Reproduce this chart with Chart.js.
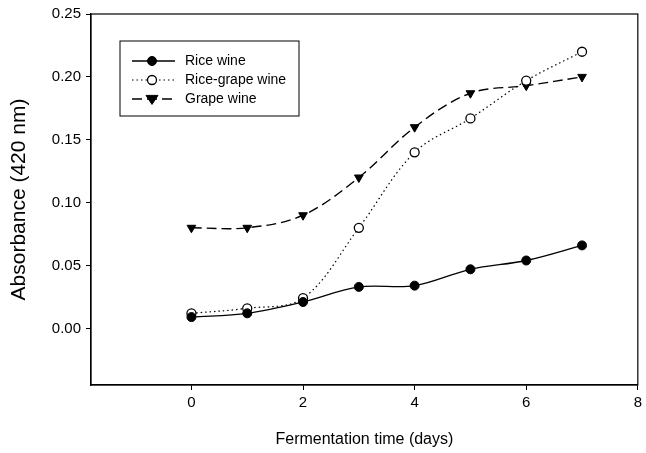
<!DOCTYPE html>
<html>
<head>
<meta charset="utf-8">
<script src="https://cdn.jsdelivr.net/npm/chart.js@4"></script>
<style>
  html, body { margin: 0; padding: 0; background: #fff; }
  #wrap { width: 646px; height: 453px; }
</style>
</head>
<body>
<div id="wrap"><canvas id="chart" width="646" height="453"></canvas></div>
<script>
// ── Data ─────────────────────────────────────────────────────────────────────
const days = [0, 1, 2, 3, 4, 5, 6, 7];
const riceWine      = [0.009, 0.012, 0.021, 0.033, 0.034, 0.047, 0.054, 0.066];
const riceGrapeWine = [0.012, 0.016, 0.024, 0.080, 0.140, 0.167, 0.197, 0.220];
const grapeWine     = [0.080, 0.080, 0.090, 0.120, 0.160, 0.187, 0.193, 0.200];
const xTicks = [0, 2, 4, 6, 8];
const yTicks = [0.00, 0.05, 0.10, 0.15, 0.20, 0.25];

const FONT = '"Liberation Sans", Arial, sans-serif';
const toPoints = vals => vals.map((v, i) => ({ x: days[i], y: v }));

// box around the plot area + legend inside it
const framePlugin = {
  id: 'frame',
  afterDatasetsDraw(chart) {
    const { ctx, chartArea: a } = chart;
    ctx.save();
    ctx.strokeStyle = '#000';
    ctx.lineWidth = 1.2;
    ctx.strokeRect(a.left, a.top, a.right - a.left, a.bottom - a.top);

    // legend
    const box = { x: 120, y: 41, w: 179, h: 75 };
    ctx.lineWidth = 1;
    ctx.strokeRect(box.x, box.y, box.w, box.h);
    ctx.font = '14px ' + FONT;
    ctx.textBaseline = 'middle';
    chart.data.datasets.forEach((ds, i) => {
      const y = box.y + 20 + i * 19;
      const cx = box.x + 32;
      ctx.strokeStyle = '#000';
      ctx.beginPath();
      ctx.setLineDash(ds.borderDash || []);
      ctx.lineWidth = ds.borderWidth;
      ctx.moveTo(box.x + 12, y);
      ctx.lineTo(box.x + 55, y);
      ctx.stroke();
      ctx.setLineDash([]);
      ctx.fillStyle = ds.pointBackgroundColor;
      ctx.lineWidth = ds.pointBorderWidth;
      ctx.beginPath();
      if (ds.pointStyle === 'circle') {
        ctx.arc(cx, y, ds.pointRadius, 0, Math.PI * 2);
      } else {
        const r = ds.pointRadius + 1;
        ctx.moveTo(cx - r, y - r * 0.6);
        ctx.lineTo(cx + r, y - r * 0.6);
        ctx.lineTo(cx, y + r * 0.9);
        ctx.closePath();
      }
      ctx.fill();
      ctx.stroke();
      ctx.fillStyle = '#000';
      ctx.fillText(ds.label, box.x + 65, y);
    });
    ctx.restore();
  }
};

new Chart(document.getElementById('chart'), {
  type: 'line',
  data: {
    datasets: [
      {
        label: 'Rice wine',
        data: toPoints(riceWine),
        borderColor: '#000',
        borderWidth: 1.3,
        pointStyle: 'circle',
        pointRadius: 4.5,
        pointBackgroundColor: '#000',
        pointBorderColor: '#000',
        pointBorderWidth: 1,
        tension: 0.35
      },
      {
        label: 'Rice-grape wine',
        data: toPoints(riceGrapeWine),
        borderColor: '#000',
        borderWidth: 1.2,
        borderDash: [1.5, 3],
        pointStyle: 'circle',
        pointRadius: 4.5,
        pointBackgroundColor: '#fff',
        pointBorderColor: '#000',
        pointBorderWidth: 1.3,
        tension: 0.35
      },
      {
        label: 'Grape wine',
        data: toPoints(grapeWine),
        borderColor: '#000',
        borderWidth: 1.4,
        borderDash: [10, 5],
        pointStyle: 'triangle',
        pointRotation: 180,
        pointRadius: 5,
        pointBackgroundColor: '#000',
        pointBorderColor: '#000',
        pointBorderWidth: 1,
        tension: 0.35
      }
    ]
  },
  options: {
    responsive: false,
    animation: false,
    layout: { padding: { top: 12, right: 5, left: 0, bottom: 0 } },
    plugins: { legend: { display: false }, tooltip: { enabled: false } },
    scales: {
      x: {
        type: 'linear',
        min: -1.8,
        max: 8,
        afterBuildTicks: s => { s.ticks = xTicks.map(v => ({ value: v })); },
        afterFit: s => { s.height = 68; },
        grid: { drawOnChartArea: false, color: '#000', tickLength: 5, tickWidth: 1 },
        border: { color: '#000', width: 1.2 },
        ticks: { color: '#000', font: { family: FONT, size: 15 }, padding: 4, maxRotation: 0 },
        title: { display: true, text: 'Fermentation time (days)', color: '#000',
                 font: { family: FONT, size: 16 }, padding: { top: 5 } }
      },
      y: {
        min: -0.045,
        max: 0.25,
        afterBuildTicks: s => { s.ticks = yTicks.map(v => ({ value: v })); },
        afterFit: s => { s.width = 91; },
        grid: { drawOnChartArea: false, color: '#000', tickLength: 5, tickWidth: 1 },
        border: { color: '#000', width: 1.2 },
        ticks: { color: '#000', font: { family: FONT, size: 15 }, padding: 5,
                 callback: v => v.toFixed(2) },
        title: { display: true, text: 'Absorbance (420 nm)', color: '#000',
                 font: { family: FONT, size: 21 }, padding: { top: 7, bottom: 4 } }
      }
    }
  },
  plugins: [framePlugin]
});
</script>
</body>
</html>
